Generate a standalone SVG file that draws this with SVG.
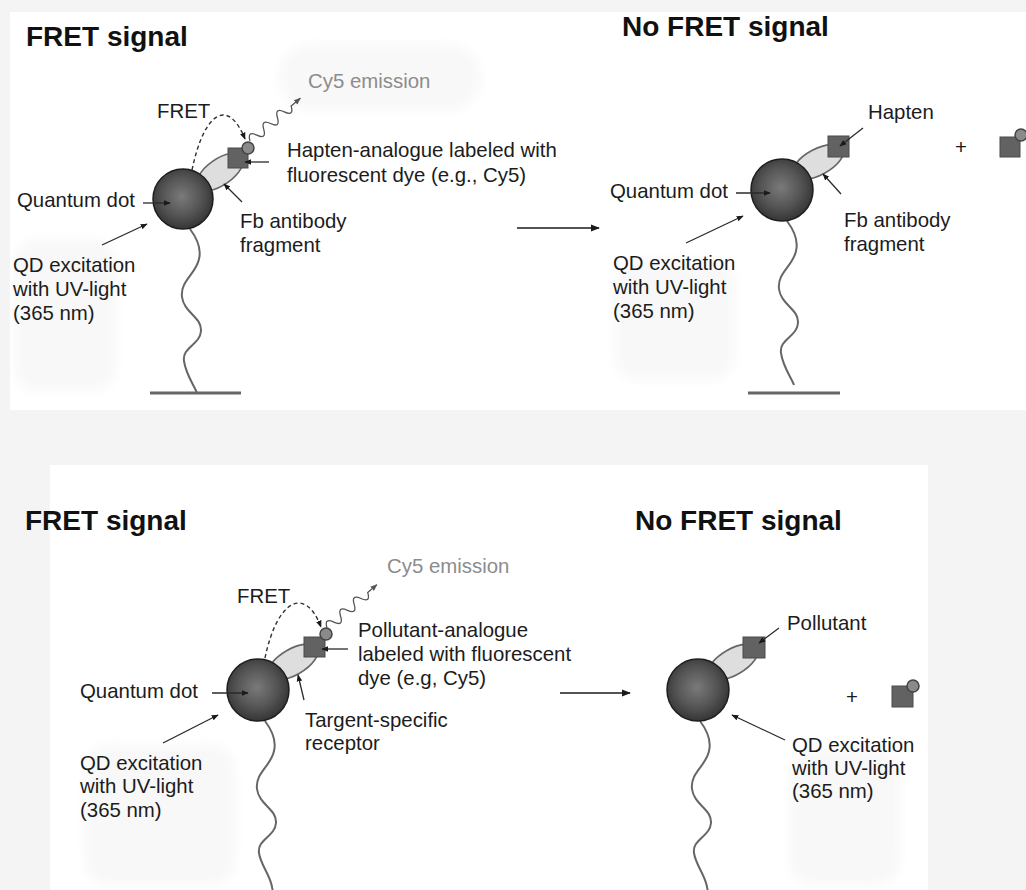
<svg xmlns="http://www.w3.org/2000/svg" xmlns:xlink="http://www.w3.org/1999/xlink" width="1026" height="890" viewBox="0 0 1026 890">
  <style>
    text { font-family: "Liberation Sans", Arial, sans-serif; fill: #1c1c1c; font-size: 20.4px; }
    .title { font-weight: bold; font-size: 28px; fill: #111; }
    .emit { fill: #8c8c8c; }
    .ptr { stroke: #2a2a2a; stroke-width: 1.3; fill: none; marker-end: url(#tip); }
    .big { stroke: #1a1a1a; stroke-width: 1.6; fill: none; marker-end: url(#tipBig); }
    .fret { stroke: #333; stroke-width: 1.4; fill: none; stroke-dasharray: 4 3; marker-end: url(#tip); }
    .wave { stroke: #555; stroke-width: 1.3; fill: none; marker-end: url(#tipGray); }
    .tether { stroke: #666; stroke-width: 2; fill: none; }
    .base { stroke: #666; stroke-width: 3; }
    .fab { fill: #dedede; stroke: #666; stroke-width: 1.6; }
    .dot { fill: url(#qdGrad); stroke: #1e1e1e; stroke-width: 1.5; }
    .hapten { fill: #626262; stroke: #4a4a4a; stroke-width: 1; }
    .dye { fill: #8a8a8a; stroke: #444; stroke-width: 1.5; }
    .smudge { fill: #f8f8f8; }
  </style>
  <defs>
    <radialGradient id="qdGrad" cx="48%" cy="46%" r="58%">
      <stop offset="0" stop-color="#7a7a7a"/>
      <stop offset="0.55" stop-color="#555"/>
      <stop offset="1" stop-color="#303030"/>
    </radialGradient>
    <filter id="soft" x="-20%" y="-40%" width="140%" height="180%">
      <feGaussianBlur stdDeviation="6"/>
    </filter>
    <marker id="tip" viewBox="0 0 10 10" refX="9" refY="5" markerWidth="7" markerHeight="7" orient="auto" markerUnits="userSpaceOnUse">
      <path d="M0,1 L10,5 L0,9 z" fill="#1a1a1a"/>
    </marker>
    <marker id="tipBig" viewBox="0 0 10 10" refX="9" refY="5" markerWidth="9" markerHeight="9" orient="auto" markerUnits="userSpaceOnUse">
      <path d="M0,1 L10,5 L0,9 z" fill="#1a1a1a"/>
    </marker>
    <marker id="tipGray" viewBox="0 0 10 10" refX="9" refY="5" markerWidth="7" markerHeight="7" orient="auto" markerUnits="userSpaceOnUse">
      <path d="M0,1 L10,5 L0,9 z" fill="#555"/>
    </marker>
    <!-- flexible linker from the quantum dot down to the surface -->
    <path id="linker" d="M0,0 C6,8 12,18 9,30 C6,45 -10,52 -8,68 C-6,84 12,88 11,102 C10,116 -8,118 -6,132 C-4,146 4,156 7,164"/>
    <path id="linkerLong" d="M0,0 C6,8 12,18 9,30 C6,45 -10,52 -8,68 C-6,84 12,88 11,102 C10,116 -8,118 -6,132 C-4,146 8,156 8,175"/>
    <!-- emitted photon squiggle, drawn along +x -->
    <path id="photon" d="M0,0 q4.5,-10 9,0 t9,0 t9,0 t9,0 t9,0 t9,0 l12,0"/>
  </defs>

  <!-- paper background -->
  <rect x="0" y="0" width="1026" height="890" fill="#f4f4f4"/>
  <rect x="10" y="12" width="1016" height="398" fill="#ffffff"/>
  <rect x="50" y="465" width="878" height="425" fill="#ffffff"/>
  <g id="smudges" filter="url(#soft)">
    <rect class="smudge" x="280" y="45" width="200" height="65" rx="30"/>
    <rect class="smudge" x="15" y="240" width="100" height="150" rx="20"/>
    <rect class="smudge" x="615" y="260" width="120" height="120" rx="24"/>
    <rect class="smudge" x="85" y="745" width="150" height="140" rx="24"/>
    <rect class="smudge" x="790" y="750" width="110" height="135" rx="24"/>
  </g>

  <!-- panel titles -->
  <g id="titles">
    <text class="title" x="26" y="46">FRET signal</text>
    <text class="title" x="622" y="36">No FRET signal</text>
    <text class="title" x="25" y="530">FRET signal</text>
    <text class="title" x="635" y="530">No FRET signal</text>
  </g>

  <!-- upper left: hapten-analogue bound, FRET active -->
  <g id="qd-hapten-bound">
    <use href="#linker" class="tether" transform="translate(190,229)"/>
    <line class="base" x1="150" y1="393" x2="241" y2="393"/>
    <ellipse class="fab" cx="220" cy="172" rx="27" ry="13" transform="rotate(-35 220 172)"/>
    <circle class="dot" cx="183" cy="199" r="30"/>
    <rect class="hapten" x="228" y="148" width="20" height="20"/>
    <circle class="dye" cx="248" cy="148" r="6"/>
  </g>

  <!-- upper right: free hapten displaced the labelled analogue -->
  <g id="qd-hapten-free">
    <use href="#linker" class="tether" transform="translate(787,221)"/>
    <line class="base" x1="748" y1="393" x2="840" y2="393"/>
    <ellipse class="fab" cx="818" cy="162" rx="28" ry="13" transform="rotate(-28 818 162)"/>
    <circle class="dot" cx="782" cy="190" r="31"/>
    <rect class="hapten" x="828" y="136" width="21" height="21"/>
  </g>
  <g id="released-analogue-top">
    <text x="961" y="154" text-anchor="middle">+</text>
    <rect class="hapten" x="1000" y="137" width="20" height="20"/>
    <circle class="dye" cx="1021" cy="135" r="6"/>
  </g>

  <!-- lower left: pollutant-analogue bound, FRET active -->
  <g id="qd-pollutant-bound">
    <use href="#linkerLong" class="tether" transform="translate(265,721)"/>
    <ellipse class="fab" cx="293" cy="662" rx="28" ry="13" transform="rotate(-30 293 662)"/>
    <circle class="dot" cx="258" cy="690" r="31"/>
    <rect class="hapten" x="304" y="637" width="21" height="20"/>
    <circle class="dye" cx="326" cy="634" r="6"/>
  </g>

  <!-- lower right: pollutant displaced the labelled analogue -->
  <g id="qd-pollutant-free">
    <use href="#linkerLong" class="tether" transform="translate(700,721)"/>
    <ellipse class="fab" cx="733" cy="662" rx="28" ry="13" transform="rotate(-30 733 662)"/>
    <circle class="dot" cx="698" cy="690" r="31"/>
    <rect class="hapten" x="743" y="637" width="22" height="21"/>
  </g>
  <g id="released-analogue-bottom">
    <text x="852" y="704" text-anchor="middle">+</text>
    <rect class="hapten" x="892" y="686" width="21" height="21"/>
    <circle class="dye" cx="913" cy="686" r="6"/>
  </g>

  <!-- arrows and energy-transfer paths -->
  <g id="connectors">
    <!-- upper left -->
    <path class="fret" d="M192,170 C204,112 228,97 245,139"/>
    <use href="#photon" class="wave" transform="translate(250,141) rotate(-40.3)"/>
    <line class="ptr" x1="269" y1="162" x2="245" y2="162"/>
    <line class="ptr" x1="143" y1="203" x2="170" y2="203"/>
    <line class="ptr" x1="242" y1="202" x2="224" y2="184"/>
    <line class="ptr" x1="102" y1="245" x2="147" y2="224"/>
    <line class="big" x1="517" y1="228" x2="599" y2="228"/>
    <!-- upper right -->
    <line class="ptr" x1="863" y1="128" x2="840" y2="146"/>
    <line class="ptr" x1="736" y1="193" x2="770" y2="193"/>
    <line class="ptr" x1="841" y1="194" x2="823" y2="174"/>
    <line class="ptr" x1="686" y1="243" x2="743" y2="216"/>
    <!-- lower left -->
    <path class="fret" d="M265,658 C277,600 305,585 321,627"/>
    <use href="#photon" class="wave" transform="translate(327,628) rotate(-41)"/>
    <line class="ptr" x1="348" y1="649" x2="322" y2="649"/>
    <line class="ptr" x1="212" y1="693" x2="248" y2="693"/>
    <line class="ptr" x1="304" y1="700" x2="298" y2="675"/>
    <line class="ptr" x1="163" y1="743" x2="218" y2="715"/>
    <line class="big" x1="560" y1="693" x2="630" y2="693"/>
    <!-- lower right -->
    <line class="ptr" x1="779" y1="628" x2="759" y2="643"/>
    <line class="ptr" x1="785" y1="740" x2="732" y2="715"/>
  </g>

  <!-- labels -->
  <g id="labels-upper-left">
    <text class="emit" x="308" y="88">Cy5 emission</text>
    <text x="157" y="118">FRET</text>
    <text x="287" y="157">Hapten-analogue labeled with</text>
    <text x="287" y="182">fluorescent dye (e.g., Cy5)</text>
    <text x="17" y="207">Quantum dot</text>
    <text x="240" y="228">Fb antibody</text>
    <text x="240" y="252">fragment</text>
    <text x="13" y="272">QD excitation</text>
    <text x="13" y="296">with UV-light</text>
    <text x="13" y="320">(365 nm)</text>
  </g>
  <g id="labels-upper-right">
    <text x="868" y="119">Hapten</text>
    <text x="610" y="198">Quantum dot</text>
    <text x="844" y="227">Fb antibody</text>
    <text x="844" y="251">fragment</text>
    <text x="613" y="270">QD excitation</text>
    <text x="613" y="294">with UV-light</text>
    <text x="613" y="318">(365 nm)</text>
  </g>
  <g id="labels-lower-left">
    <text class="emit" x="387" y="573">Cy5 emission</text>
    <text x="237" y="603">FRET</text>
    <text x="358" y="637">Pollutant-analogue</text>
    <text x="358" y="661">labeled with fluorescent</text>
    <text x="358" y="685">dye (e.g, Cy5)</text>
    <text x="80" y="698">Quantum dot</text>
    <text x="305" y="727">Targent-specific</text>
    <text x="305" y="750">receptor</text>
    <text x="80" y="770">QD excitation</text>
    <text x="80" y="793">with UV-light</text>
    <text x="80" y="817">(365 nm)</text>
  </g>
  <g id="labels-lower-right">
    <text x="787" y="630">Pollutant</text>
    <text x="792" y="752">QD excitation</text>
    <text x="792" y="775">with UV-light</text>
    <text x="792" y="798">(365 nm)</text>
  </g>
</svg>
